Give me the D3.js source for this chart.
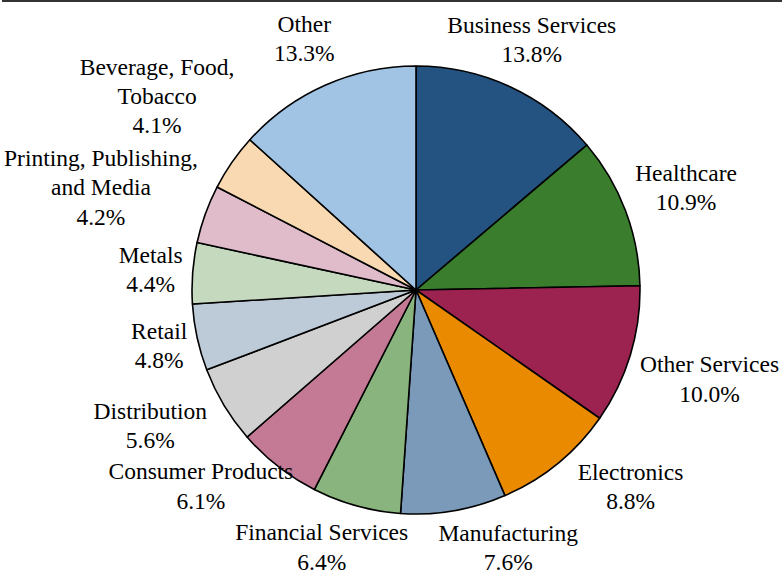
<!DOCTYPE html>
<html>
<head>
<meta charset="utf-8">
<script src="https://cdn.jsdelivr.net/npm/d3@7"></script>
</head>
<body style="margin:0">
<svg id="chart" width="782" height="580" style="display:block"></svg>
<script>
// ---- data ----
const categories = [
  "Business Services", "Healthcare", "Other Services", "Electronics",
  "Manufacturing", "Financial Services", "Consumer Products", "Distribution",
  "Retail", "Metals", "Printing, Publishing, and Media", "Beverage, Food, Tobacco", "Other"
];
// label lines as they are wrapped in the picture
const labelLines = [
  ["Business Services"], ["Healthcare"], ["Other Services"], ["Electronics"],
  ["Manufacturing"], ["Financial Services"], ["Consumer Products"], ["Distribution"],
  ["Retail"], ["Metals"], ["Printing, Publishing,", "and Media"], ["Beverage, Food,", "Tobacco"], ["Other"]
];
const values = [13.8, 10.9, 10.0, 8.8, 7.6, 6.4, 6.1, 5.6, 4.8, 4.4, 4.2, 4.1, 13.3];
const colors = [
  "#255381", "#3a7d2c", "#9c234f", "#ea8a00",
  "#7b99b8", "#89b47e", "#c47a94", "#d0d0d0",
  "#bdcad8", "#c5d9bf", "#e0bccb", "#f8d9b1", "#a1c4e4"
];

// ---- layout ----
const W = 782, H = 580;
const cx = 416, cy = 290, R = 224;
const fontSize = 23.5, lineH = 29.3;
const FONT = "Liberation Serif";

const svg = d3.select("#chart");

// top border line
svg.append("line")
  .attr("x1", 2).attr("x2", W).attr("y1", 1).attr("y2", 1)
  .attr("stroke", "#333").attr("stroke-width", 2);

const data = categories.map((c, i) => ({ name: c, lines: labelLines[i], value: values[i], color: colors[i] }));

const pie = d3.pie().sort(null).value(d => d.value).startAngle(0).endAngle(2 * Math.PI);
const arcs = pie(data);
const arc = d3.arc().innerRadius(0).outerRadius(R);

const g = svg.append("g").attr("transform", `translate(${cx},${cy})`);
g.selectAll("path.slice")
  .data(arcs)
  .join("path")
  .attr("class", "slice")
  .attr("d", arc)
  .attr("fill", d => d.data.color)
  .attr("stroke", "#000")
  .attr("stroke-width", 1.6)
  .attr("stroke-linejoin", "round");

// ---- labels ----
const fmt = d3.format(".1f");

const items = arcs.map(a => {
  const lines = a.data.lines.concat([fmt(a.data.value) + "%"]);
  const texts = lines.map((ln, k) => {
    const t = svg.append("text")
      .attr("text-anchor", "middle")
      .attr("font-family", FONT)
      .attr("font-size", fontSize)
      .style("font-family", FONT)
      .style("font-size", fontSize + "px")
      .style("fill", "#000")
      .text(ln);
    return { t, off: (k - (lines.length - 1) / 2) * lineH + fontSize * 0.33 };
  });
  return { texts, nLines: lines.length, mid: (a.startAngle + a.endAngle) / 2 };
});

const reach = R + 6;
function place(it) {
  const ux = Math.sin(it.phi), uy = -Math.cos(it.phi);
  const dx = Math.abs(ux) > 1e-6 ? (it.w / 2) / Math.abs(ux) : Infinity;
  const dy = Math.abs(uy) > 1e-6 ? (it.h / 2) / Math.abs(uy) : Infinity;
  const d = reach + Math.min(dx, dy);
  it.x = Math.max(it.tw / 2 + 4, Math.min(W - it.tw / 2 - 2, cx + d * ux));
  it.y = cy + d * uy;
}
function overlap(a, b) {
  return Math.abs(a.x - b.x) < (a.tw + b.tw) / 2 + 30 && Math.abs(a.y - b.y) < (a.th + b.th) / 2 + 2;
}
function layout() {
  items.forEach(it => {
    it.tw = d3.max(it.texts, d => d.t.node().getComputedTextLength());
    it.th = it.nLines * lineH;
    it.w = it.tw + 8;
    it.h = it.th + 24;
    it.phi = it.mid;
    place(it);
  });
  for (let iter = 0; iter < 1000; iter++) {
    let moved = false;
    for (let i = 0; i < items.length; i++) {
      const a = items[i], b = items[(i + 1) % items.length];
      if (overlap(a, b)) {
        a.phi -= 0.003; b.phi += 0.003;
        place(a); place(b);
        moved = true;
      }
    }
    if (!moved) break;
  }
  items.forEach(it => it.texts.forEach(d => d.t.attr("x", it.x).attr("y", it.y + d.off)));
}
layout();
if (document.fonts) {
  document.fonts.load(fontSize + "px '" + FONT + "'").then(layout).catch(() => {});
  document.fonts.ready.then(layout);
}
</script>
</body>
</html>
